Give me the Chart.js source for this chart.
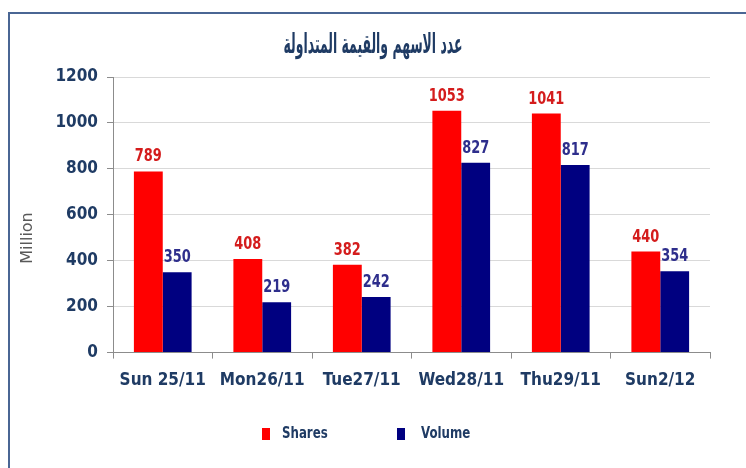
<!DOCTYPE html>
<html><head><meta charset="utf-8">
<script src="https://cdn.jsdelivr.net/npm/chart.js@4.4.0/dist/chart.umd.min.js"></script>
<style>
html,body{margin:0;padding:0;background:#fff;}
#wrap{position:relative;width:746px;height:468px;overflow:hidden;}
#frame{position:absolute;left:8px;top:12px;width:800px;height:520px;border:2px solid #4a6694;box-sizing:border-box;pointer-events:none;}
canvas{position:absolute;left:0;top:0;}
</style></head>
<body><div id="wrap"><canvas id="c" width="746" height="468"></canvas><div id="frame"></div></div>
<script>
const categories = ["Sun 25/11","Mon26/11","Tue27/11","Wed28/11","Thu29/11","Sun2/12"];
const shares = [789,408,382,1053,1041,440];
const volume = [350,219,242,827,817,354];
const yTicks = [0,200,400,600,800,1000,1200];
const titleText = "عدد الاسهم والقيمة المتداولة";
const yTitle = "Million";

const COND = "'DejaVu Sans Condensed','DejaVu Sans',sans-serif";
const NAVY = "#1f3b64";

function narrowText(ctx, text, x, y, sx){
  ctx.save();
  ctx.translate(x, y);
  ctx.scale(sx, 1);
  ctx.fillText(text, 0, 0);
  ctx.restore();
}

const decorations = {
  id:'decorations',
  afterDraw(chart){
    const ctx = chart.ctx;
    // title
    ctx.save();
    ctx.fillStyle = NAVY;
    ctx.font = "bold 27px 'DejaVu Sans',sans-serif";
    ctx.textAlign = 'center';
    ctx.textBaseline = 'middle';
    const w = ctx.measureText(titleText).width;
    narrowText(ctx, titleText, 373, 46, 179 / w);
    ctx.restore();
    // y axis title
    ctx.save();
    ctx.fillStyle = '#595959';
    ctx.font = "16px 'DejaVu Sans',sans-serif";
    ctx.textAlign = 'center';
    ctx.textBaseline = 'middle';
    ctx.translate(28, 238);
    ctx.rotate(-Math.PI/2);
    ctx.fillText(yTitle, 0, 0);
    ctx.restore();
    // legend
    ctx.save();
    ctx.font = "bold 16px " + COND;
    ctx.textAlign = 'left';
    ctx.textBaseline = 'middle';
    const items = [{x:262, tx:282}, {x:397, tx:421}];
    chart.data.datasets.forEach((ds,i)=>{
      const it = items[i];
      ctx.fillStyle = ds.backgroundColor;
      ctx.fillRect(it.x, 428, 8, 12);
      ctx.fillStyle = NAVY;
      narrowText(ctx, ds.label, it.tx, 434, 0.82);
    });
    ctx.restore();
  },
  afterDatasetsDraw(chart){
    const ctx = chart.ctx;
    ctx.save();
    ctx.font = "bold 18px " + COND;
    ctx.textAlign = 'center';
    ctx.textBaseline = 'alphabetic';
    chart.data.datasets.forEach((ds,i)=>{
      const meta = chart.getDatasetMeta(i);
      ctx.fillStyle = ds.labelColor;
      meta.data.forEach((bar,j)=>{
        narrowText(ctx, String(ds.data[j]), bar.x, bar.y - 10, 0.8);
      });
    });
    ctx.restore();
  }
};

new Chart(document.getElementById('c'), {
  type:'bar',
  data:{
    labels:categories,
    datasets:[
      {label:'Shares', data:shares, backgroundColor:'#ff0000', labelColor:'#d41c1c', categoryPercentage:0.58, barPercentage:1.0},
      {label:'Volume', data:volume, backgroundColor:'#000080', labelColor:'#2e2e8c', categoryPercentage:0.58, barPercentage:1.0}
    ]
  },
  options:{
    responsive:false, animation:false,
    layout:{padding:{left:0,right:36,top:77,bottom:65}},
    plugins:{
      title:{display:false},
      legend:{display:false},
      tooltip:{enabled:false}
    },
    scales:{
      x:{
        grid:{display:true, drawOnChartArea:false, drawTicks:true, tickLength:6, color:'#8c8c8c'},
        border:{color:'#8c8c8c'},
        ticks:{color:NAVY, padding:12, font:{family:COND, size:17, weight:'bold'}}
      },
      y:{
        min:0, max:1200,
        afterBuildTicks(s){ s.ticks = yTicks.map(v=>({value:v})); },
        afterFit(s){ s.width = 113; },
        grid:{color:'#d9d9d9', tickLength:6, tickColor:'#8c8c8c'},
        border:{color:'#8c8c8c'},
        ticks:{color:NAVY, padding:9, callback:v=>String(v), font:{family:COND, size:17, weight:'bold'}}
      }
    }
  },
  plugins:[decorations]
});
</script></body></html>
